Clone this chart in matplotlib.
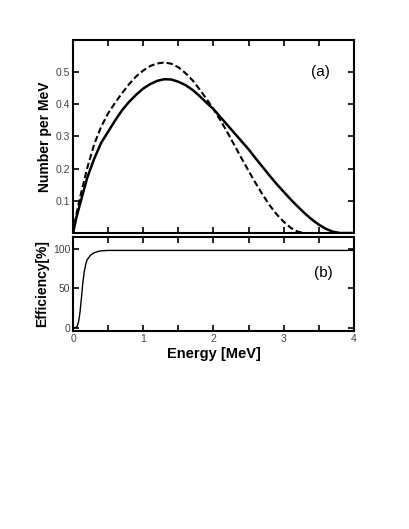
import numpy as np
import matplotlib
matplotlib.use("Agg")
import matplotlib.pyplot as plt
from matplotlib.ticker import MultipleLocator

plt.rcParams['font.family'] = ['Liberation Sans', 'DejaVu Sans']

# spectrum (a): solid and dashed curves
energy_solid = [0, 0.05, 0.1, 0.2, 0.3, 0.4, 0.5, 0.6, 0.7, 0.8, 0.9, 1.0, 1.1, 1.2,
                1.3, 1.4, 1.5, 1.6, 1.7, 1.8, 1.9, 2.0, 2.1, 2.2, 2.3, 2.4, 2.5, 2.6,
                2.7, 2.8, 2.9, 3.0, 3.1, 3.2, 3.3, 3.4, 3.5, 3.6, 3.7, 3.8, 4.0]
number_solid = [0, 0.05, 0.09, 0.17, 0.23, 0.28, 0.315, 0.35, 0.382, 0.408, 0.43, 0.449,
                0.463, 0.473, 0.478, 0.477, 0.47, 0.46, 0.445, 0.426, 0.405, 0.385,
                0.36, 0.335, 0.31, 0.285, 0.26, 0.232, 0.205, 0.178, 0.152, 0.128,
                0.104, 0.082, 0.061, 0.042, 0.026, 0.013, 0.004, 0.0, 0.0]

energy_dash = [0, 0.05, 0.1, 0.2, 0.3, 0.4, 0.5, 0.6, 0.7, 0.8, 0.9, 1.0, 1.1, 1.2,
               1.3, 1.4, 1.5, 1.6, 1.7, 1.8, 1.9, 2.0, 2.1, 2.2, 2.3, 2.4, 2.5, 2.6,
               2.7, 2.8, 2.9, 3.0, 3.1, 3.2, 3.3]
number_dash = [0, 0.06, 0.11, 0.2, 0.275, 0.33, 0.372, 0.405, 0.435, 0.463, 0.487,
               0.505, 0.519, 0.527, 0.53, 0.526, 0.515, 0.497, 0.475, 0.447, 0.417,
               0.385, 0.35, 0.312, 0.272, 0.232, 0.193, 0.155, 0.119, 0.086, 0.058,
               0.035, 0.016, 0.004, 0.0]

# efficiency (b)
energy_eff = [0, 0.04, 0.06, 0.08, 0.1, 0.12, 0.14, 0.16, 0.18, 0.2, 0.25, 0.3, 0.35,
              0.4, 0.5, 4.0]
efficiency = [0, 0.5, 2, 8, 20, 38, 57, 71, 80, 86, 92, 95, 96.5, 97.5, 98, 98]

fig = plt.figure(figsize=(4.09, 5.29), dpi=100)
ax1 = fig.add_axes([0.1785, 0.5595, 0.687, 0.365])
ax2 = fig.add_axes([0.1785, 0.3743, 0.687, 0.1777])

ax1.plot(energy_solid, number_solid, color='black', lw=1.8)
ax1.plot(energy_dash, number_dash, color='black', lw=1.5, dashes=(3, 1.5))
ax1.set_xlim(0, 4)
ax1.set_ylim(0, 0.6)
ax1.set_yticks([0.1, 0.2, 0.3, 0.4, 0.5])
ax1.set_ylabel('Number per MeV', fontsize=10, fontweight='bold', labelpad=3)
ax1.text(3.52, 0.5, '(a)', fontsize=11, ha='center', va='center')
ax1.tick_params(labelbottom=False)

ax2.plot(energy_eff, efficiency, color='black', lw=1.0)
ax2.set_xlim(0, 4)
ax2.set_ylim(-4, 115)
ax2.set_yticks([0, 50, 100])
ax2.set_xticks([0, 1, 2, 3, 4])
ax2.set_xlabel('Energy [MeV]', fontsize=10.5, fontweight='bold', labelpad=2)
ax2.set_ylabel('Efficiency[%]', fontsize=10, fontweight='bold', labelpad=3)
ax2.text(3.56, 70, '(b)', fontsize=11, ha='center', va='center')

for ax in (ax1, ax2):
    ax.xaxis.set_major_locator(MultipleLocator(1))
    ax.xaxis.set_minor_locator(MultipleLocator(0.5))
    ax.tick_params(which='both', direction='in', top=True, right=True,
                   length=4, width=1.2, labelsize=7.5, labelcolor='#444444', pad=2)
    for s in ax.spines.values():
        s.set_linewidth(1.5)

fig.savefig('out.png', dpi=100)
